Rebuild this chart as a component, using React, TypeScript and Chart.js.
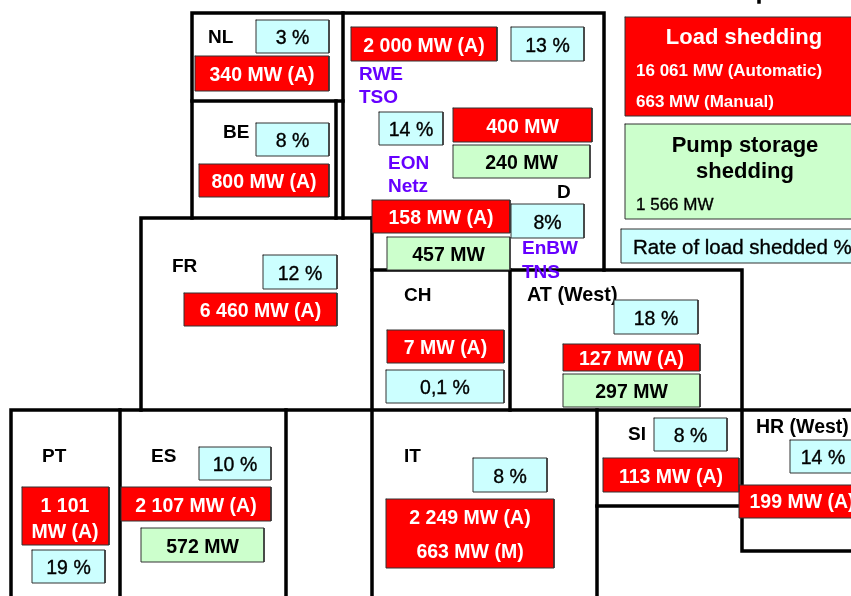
import React, { useEffect, useRef } from "react";
import { Chart, registerables } from "chart.js";

Chart.register(...registerables);

// Values
const shedLabels = ["340 MW (A)", "800 MW (A)", "2 000 MW (A)", "400 MW", "158 MW (A)", "6 460 MW (A)", "7 MW (A)", "127 MW (A)", "113 MW (A)", "199 MW (A)", "2 107 MW (A)"];
const pumpLabels = ["240 MW", "457 MW", "297 MW", "572 MW"];
const rateLabels = ["3 %", "8 %", "13 %", "14 %", "8%", "12 %", "0,1 %", "18 %", "8 %", "14 %", "8 %", "10 %", "19 %"];
const areaLabels = ["NL", "BE", "D", "FR", "CH", "AT (West)", "PT", "ES", "IT", "SI", "HR (West)"];
const operatorLabels = ["RWE", "TSO", "EON", "Netz", "EnBW", "TNS"];
const legendLabels = ["Load shedding", "16 061 MW (Automatic)", "663 MW (Manual)", "Pump storage", "shedding", "1 566 MW", "Rate of load shedded %"];
const italyLines = ["2 249 MW (A)", "663 MW (M)"];
const portugalLines = ["1 101", "MW (A)"];

// Layout table of the diagram, in the axes' own units
const RED = "#ff0000", GREEN = "#ccffcc", BLUE = "#ccffff";
type Box = [number, number, number, number, string, string?];
const boxes: Box[] = [
  [195, 56, 329, 91, RED, shedLabels[0]],
  [199, 164, 329, 197, RED, shedLabels[1]],
  [351, 27, 497, 61, RED, shedLabels[2]],
  [453, 108, 592, 142, RED, shedLabels[3]],
  [372, 200, 510, 233, RED, shedLabels[4]],
  [184, 293, 337, 326, RED, shedLabels[5]],
  [387, 330, 504, 363, RED, shedLabels[6]],
  [563, 344, 700, 371, RED, shedLabels[7]],
  [603, 458, 739, 492, RED, shedLabels[8]],
  [739, 485, 858, 518, RED],
  [121, 487, 271, 521, RED, shedLabels[10]],
  [386, 499, 554, 568, RED],
  [22, 487, 109, 545, RED],
  [453, 145, 590, 178, GREEN, pumpLabels[0]],
  [387, 237, 510, 270, GREEN, pumpLabels[1]],
  [563, 374, 700, 407, GREEN, pumpLabels[2]],
  [141, 528, 264, 562, GREEN, pumpLabels[3]],
  [256, 20, 329, 53, BLUE, rateLabels[0]],
  [256, 123, 329, 156, BLUE, rateLabels[1]],
  [511, 27, 584, 61, BLUE, rateLabels[2]],
  [379, 112, 443, 145, BLUE, rateLabels[3]],
  [511, 204, 584, 238, BLUE, rateLabels[4]],
  [263, 255, 337, 289, BLUE, rateLabels[5]],
  [386, 370, 504, 403, BLUE, rateLabels[6]],
  [614, 300, 698, 334, BLUE, rateLabels[7]],
  [654, 418, 727, 451, BLUE, rateLabels[8]],
  [790, 440, 858, 473, BLUE],
  [473, 458, 547, 492, BLUE, rateLabels[10]],
  [199, 447, 271, 480, BLUE, rateLabels[11]],
  [32, 550, 105, 583, BLUE, rateLabels[12]],
  [625, 17, 858, 116, RED],
  [625, 124, 858, 219, GREEN],
  [621, 229, 858, 263, BLUE],
];
const borders: [number, number][][] = [
  [[192, 218], [192, 13], [604, 13], [604, 270]],
  [[343, 13], [343, 218]],
  [[192, 101], [343, 101]],
  [[336, 101], [336, 218]],
  [[141, 410], [141, 218], [372, 218]],
  [[372, 218], [372, 596]],
  [[372, 270], [742, 270], [742, 551], [851, 551]],
  [[510, 270], [510, 410]],
  [[11, 596], [11, 410], [851, 410]],
  [[120, 410], [120, 596]],
  [[286, 410], [286, 596]],
  [[597, 410], [597, 596]],
  [[597, 506], [741, 506]],
  [[759, 0], [759, 2]],
];
type Note = [string, number, number, "left" | "center", number, string, string];
const PURPLE = "#6600ff", INK = "#000000", WHITE = "#ffffff";
const underNotes: Note[] = [
  [areaLabels[0], 208, 37, "left", 19, "bold", INK],
  [areaLabels[1], 223, 132, "left", 19, "bold", INK],
  [areaLabels[2], 557, 192, "left", 19, "bold", INK],
  [areaLabels[3], 172, 266, "left", 19, "bold", INK],
  [areaLabels[4], 404, 295, "left", 19, "bold", INK],
  [areaLabels[5], 527, 295, "left", 19.8, "bold", INK],
  [areaLabels[6], 42, 456, "left", 19, "bold", INK],
  [areaLabels[7], 151, 456, "left", 19, "bold", INK],
  [areaLabels[8], 404, 456, "left", 19, "bold", INK],
  [areaLabels[9], 628, 434, "left", 19, "bold", INK],
  [areaLabels[10], 756, 427, "left", 19.5, "bold", INK],
];
const overNotes: Note[] = [
  [operatorLabels[0], 359, 74, "left", 19, "bold", PURPLE],
  [operatorLabels[1], 359, 97, "left", 19, "bold", PURPLE],
  [operatorLabels[2], 388, 163, "left", 19, "bold", PURPLE],
  [operatorLabels[3], 388, 186, "left", 19, "bold", PURPLE],
  [operatorLabels[4], 522, 248, "left", 19, "bold", PURPLE],
  [operatorLabels[5], 522, 272, "left", 19, "bold", PURPLE],
  [shedLabels[9], 802, 502, "center", 19.5, "bold", WHITE],
  [rateLabels[9], 823, 458, "center", 19.5, "rate", INK],
  [italyLines[0], 470, 518, "center", 19.5, "bold", WHITE],
  [italyLines[1], 470, 552, "center", 19.5, "bold", WHITE],
  [portugalLines[0], 65, 506, "center", 19.5, "bold", WHITE],
  [portugalLines[1], 65, 532, "center", 19.5, "bold", WHITE],
  [legendLabels[0], 744, 37, "center", 22, "bold", WHITE],
  [legendLabels[1], 636, 70, "left", 17, "bold", WHITE],
  [legendLabels[2], 636, 101, "left", 17, "bold", WHITE],
  [legendLabels[3], 745, 145, "center", 22, "bold", INK],
  [legendLabels[4], 745, 171, "center", 22, "bold", INK],
  [legendLabels[5], 636, 204, "left", 17, "rate", INK],
  [legendLabels[6], 633, 247, "left", 20.5, "rate", INK],
];

const FAMILY = '"Liberation Sans", Arial, sans-serif';

function drawNotes(chart: any, notes: Note[]) {
  const { ctx, scales } = chart;
  ctx.save();
  ctx.textBaseline = "middle";
  for (const [text, x, y, align, size, weight, color] of notes) {
    ctx.font = `${weight === "rate" ? "normal" : "bold"} ${size}px ${FAMILY}`;
    ctx.textAlign = align;
    ctx.fillStyle = color;
    const px = scales.x.getPixelForValue(x), py = scales.y.getPixelForValue(y) + 1;
    ctx.fillText(text, px, py);
    if (weight === "rate") {
      ctx.strokeStyle = color;
      ctx.lineWidth = 0.35;
      ctx.strokeText(text, px, py);
    }
  }
  ctx.restore();
}

const notesPlugin = {
  id: "diagramNotes",
  beforeDatasetsDraw(chart: any) {
    drawNotes(chart, underNotes);
  },
  afterDatasetsDraw(chart: any) {
    const boxNotes: Note[] = boxes
      .filter((b) => b[5])
      .map((b) => [b[5] as string, (b[0] + b[2]) / 2, (b[1] + b[3]) / 2 + 1.3, "center", 19.5, b[4] === BLUE ? "rate" : "bold", b[4] === RED ? WHITE : INK]);
    drawNotes(chart, boxNotes);
    drawNotes(chart, overNotes);
  },
};

export default function App() {
  const ref = useRef<HTMLCanvasElement>(null);
  useEffect(() => {
    document.body.style.margin = "0";
    const boxSets = boxes.map(([x0, y0, x1, y1, fill]) => ({
      type: "line",
      data: [{ x: x0, y: y0 }, { x: x1, y: y0 }, { x: x1, y: y1 }, { x: x0, y: y1 }, { x: x0, y: y0 }],
      backgroundColor: fill,
      fill: "shape",
      borderColor: "#333333",
      borderWidth: 1,
      borderJoinStyle: "miter",
      borderCapStyle: "square",
      pointRadius: 0,
      tension: 0,
      order: 1,
      clip: false,
    }));
    const borderSets = borders.map((pts) => ({
      type: "line",
      data: pts.map(([x, y]) => ({ x, y })),
      borderColor: "#000000",
      borderWidth: 3.5,
      borderCapStyle: "square",
      borderJoinStyle: "miter",
      pointRadius: 0,
      tension: 0,
      fill: false,
      order: 2,
      clip: false,
    }));
    const chart = new Chart(ref.current!, {
      type: "scatter",
      data: { datasets: [...boxSets, ...borderSets] as any },
      options: {
        responsive: false,
        animation: false,
        layout: { padding: 0 },
        plugins: { legend: { display: false }, tooltip: { enabled: false } },
        scales: {
          x: { type: "linear", min: 0, max: 851, display: false },
          y: { type: "linear", min: 0, max: 596, reverse: true, display: false },
        },
      },
      plugins: [notesPlugin],
    } as any);
    return () => chart.destroy();
  }, []);
  return <canvas ref={ref} width={851} height={596} style={{ display: "block" }} />;
}
